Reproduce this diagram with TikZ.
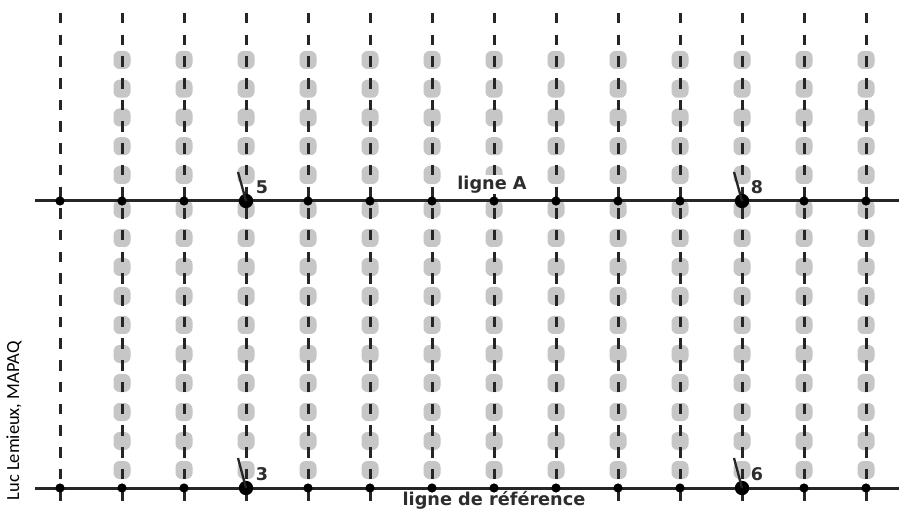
\documentclass[tikz,border=0pt]{standalone}
\usepackage{fontspec}
\setmainfont{DejaVu Sans}
\newfontfamily\credfont{Carlito}
\definecolor{dotgray}{RGB}{198,198,198}
\definecolor{txtgray}{RGB}{45,45,45}
\begin{document}
\begin{tikzpicture}[x=1pt,y=-1pt,
  gdot/.style={fill=dotgray,draw=none},
  dashline/.style={line width=3pt,dash pattern=on 10.5pt off 11.2pt,color=black!85},
  hline/.style={line width=3pt,color=black!85},
  sdot/.style={fill=black},
  ticmark/.style={line width=2.3pt,color=black!85},
  numlbl/.style={font=\bfseries\fontsize{17.5}{20}\selectfont,text=txtgray,inner sep=0pt},
  linelbl/.style={font=\bfseries\fontsize{17.7}{20}\selectfont,text=txtgray,fill=white,inner sep=0.5pt}]
\useasboundingbox (0,0) rectangle (899,510);
\fill[white] (0,0) rectangle (899,510);
% column coordinates
\foreach \i in {0,...,13}{
  \coordinate (top\i) at ({60+62*\i},13);
  \coordinate (bot\i) at ({60+62*\i},510);
  \coordinate (a\i) at ({60+62*\i},201);
  \coordinate (r\i) at ({60+62*\i},488);
}
% gray dots
\foreach \i in {1,...,13}{
  \foreach \y in {60,88.75,117.5,146.25,175}{
    \fill[gdot,rounded corners=6pt] ({60+62*\i-8.5},{\y-9}) rectangle ++(17,18);
  }
  \foreach \k in {0,...,9}{
    \fill[gdot,rounded corners=6pt] ({60+62*\i-8.5},{209+29*\k-9}) rectangle ++(17,18);
  }
}
% dashed verticals
\foreach \i in {0,...,13}{
  \draw[dashline] (top\i) -- (bot\i);
}
% horizontal lines
\coordinate (lAl) at (35,201);
\coordinate (lAr) at (899,201);
\coordinate (lRl) at (35,488);
\coordinate (lRr) at (899,488);
\draw[hline] (lAl) -- (lAr);
\draw[hline] (lRl) -- (lRr);
% labels of lines
\node[linelbl] (labA) at (492,184.5) {ligne A};
\node[linelbl] (labR) at (494,500) {ligne de référence};
% intersection dots
\foreach \i in {0,1,2,4,5,6,7,8,9,10,12,13}{
  \fill[sdot] (a\i) circle (4.6pt);
  \fill[sdot] (r\i) circle (4.6pt);
}
\foreach \i in {3,11}{
  \fill[sdot] (a\i) circle (7.2pt);
  \fill[sdot] (r\i) circle (7.2pt);
}
% ticks and numbers
\coordinate (t5) at (238,172);
\coordinate (t3) at (238,458);
\coordinate (t8) at (734,172);
\coordinate (t6) at (734,458);
\draw[ticmark] (t5) -- (a3);
\draw[ticmark] (t3) -- (r3);
\draw[ticmark] (t8) -- (a11);
\draw[ticmark] (t6) -- (r11);
\node[numlbl] (n5) at (262,187) {5};
\node[numlbl] (n3) at (262,474) {3};
\node[numlbl] (n8) at (757,187) {8};
\node[numlbl] (n6) at (757,474) {6};
% credit
\node[rotate=90,font=\credfont\fontsize{18.5}{20}\selectfont,inner sep=0pt] (cred) at (14,421) {Luc Lemieux, MAPAQ};
\end{tikzpicture}
\end{document}
